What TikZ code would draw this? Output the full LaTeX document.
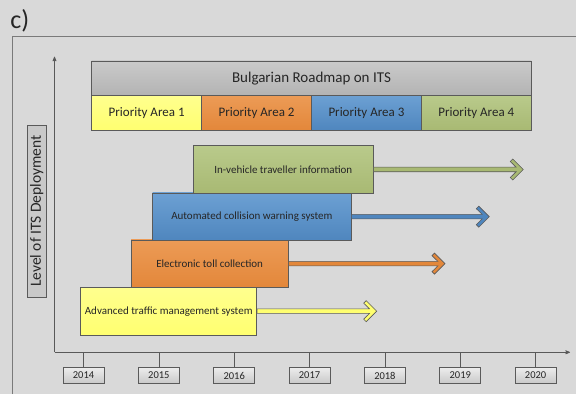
\documentclass[tikz,border=0pt]{standalone}
\usepackage{fontspec}
\setmainfont{Carlito}
\usetikzlibrary{positioning,calc,arrows}
\definecolor{bggray}{HTML}{D9D9D9}
\definecolor{edgegray}{HTML}{5A5A5A}
\definecolor{axisgray}{HTML}{595959}
\definecolor{frmgray}{HTML}{7A7A7A}
\definecolor{tittop}{HTML}{CACACA}
\definecolor{titbot}{HTML}{B3B3B3}
\definecolor{ylwtop}{HTML}{FFFF8E}
\definecolor{ylwbot}{HTML}{FFFF70}
\definecolor{orgtop}{HTML}{EC9B56}
\definecolor{orgbot}{HTML}{E3873A}
\definecolor{blutop}{HTML}{6CA0D3}
\definecolor{blubot}{HTML}{4F86BE}
\definecolor{grntop}{HTML}{B9CA8B}
\definecolor{grnbot}{HTML}{A8B973}
\definecolor{yrtop}{HTML}{ECECEC}
\definecolor{yrbot}{HTML}{C9C9C9}
\begin{document}
\begin{tikzpicture}[x=1pt,y=1pt]
                        \tikzstyle{every node}=[rectangle,draw=edgegray,line width=0.6pt,inner sep=0,text=black!85]
                        \tikzstyle{note}=[draw=none,fill=none]
                        \tikzstyle{areabox}=[minimum width=109.9,minimum height=34.4,font=\fontsize{13}{15}\selectfont]
                        \tikzstyle{itembox}=[minimum height=47.4,font=\fontsize{11}{13}\selectfont]
                        \tikzstyle{yearbox}=[minimum width=41,minimum height=15.7,top color=yrtop,bottom color=yrbot,font=\fontsize{10.5}{12}\selectfont]
                        \tikzstyle{axis}=[draw=axisgray,line width=0.7pt]
                        \tikzstyle{roadarrow}=[draw=edgegray,line width=0.6pt,line join=miter]
                        {
                            \useasboundingbox[fill=bggray] (0,0) rectangle (576,394);
                            \draw[frmgray,line width=0.6pt] (12,0) |- (576,357.3);
                            \node[note,anchor=base west,font=\fontsize{26}{30}\selectfont] (panel) at (10,365.5) {c)};

                            % roadmap header
                            \node[top color=tittop,bottom color=titbot,minimum width=439.6,minimum height=34.7,font=\fontsize{15}{18}\selectfont] (title) at (311.5,315.7) {Bulgarian Roadmap on ITS};
                            \foreach \i/\col in {1/ylw,2/org,3/blu,4/grn}
                                \node[areabox,top color=\col top,bottom color=\col bot] (area\i) at ({146.65+109.9*(\i-1)},281.1) {Priority Area \i};

                            % axes
                            \coordinate (origin) at (54.5,41.7);
                            \coordinate (ytop) at (54.5,337.3);
                            \coordinate (xend) at (570,41.7);
                            \draw[axis,->,>=stealth'] (origin) -- (ytop);
                            \draw[axis,->,>=stealth'] (origin) -- (xend);
                            \node[rotate=90,minimum width=172.3,minimum height=19,fill=black!21,font=\fontsize{15.5}{18}\selectfont] (ylabel) at (36.8,182.85) {Level of ITS Deployment};
                            \foreach \yr [count=\i from 0] in {2014,...,2020} {
                                \node[yearbox] (y\yr) at ({83.5+75.35*\i},18.5) {\yr};
                                \draw[axis] (y\yr.north) -- (y\yr.north |- origin);
                            }

                            % services
                            \node[itembox,minimum width=176,top color=ylwtop,bottom color=ylwbot] (atms) at (168.7,82.85) {Advanced traffic management system};
                            \node[itembox,minimum width=157.3,top color=orgtop,bottom color=orgbot] (etc) at (209.65,130.35) {Electronic toll collection};
                            \node[itembox,minimum width=198.3,top color=blutop,bottom color=blubot] (acws) at (251.85,177.35) {Automated collision warning system};
                            \node[itembox,minimum width=180,top color=grntop,bottom color=grnbot] (ivti) at (283.3,224.5) {In-vehicle traveller information};
                            \coordinate (atms-tip) at (376.7,82.85);
                            \coordinate (etc-tip) at (445,130.35);
                            \coordinate (acws-tip) at (489.3,177.35);
                            \coordinate (ivti-tip) at (523.3,224.5);
                            \foreach \b/\col in {atms/ylw,etc/org,acws/blu,ivti/grn}
                                \filldraw[roadarrow,fill=\col bot] let \p1=(\b.east), \p2=(\b-tip) in
                                    (\x1,\y1+2.3) -- (\x2-7.2,\y1+2.3) -- (\x2-13,\y1+8) -- (\x2-10.5,\y1+10.5)
                                    -- (\x2,\y1) -- (\x2-10.5,\y1-10.5) -- (\x2-13,\y1-8) -- (\x2-7.2,\y1-2.3)
                                    -- (\x1,\y1-2.3) -- cycle;
                        }
                    \end{tikzpicture}
\end{document}
